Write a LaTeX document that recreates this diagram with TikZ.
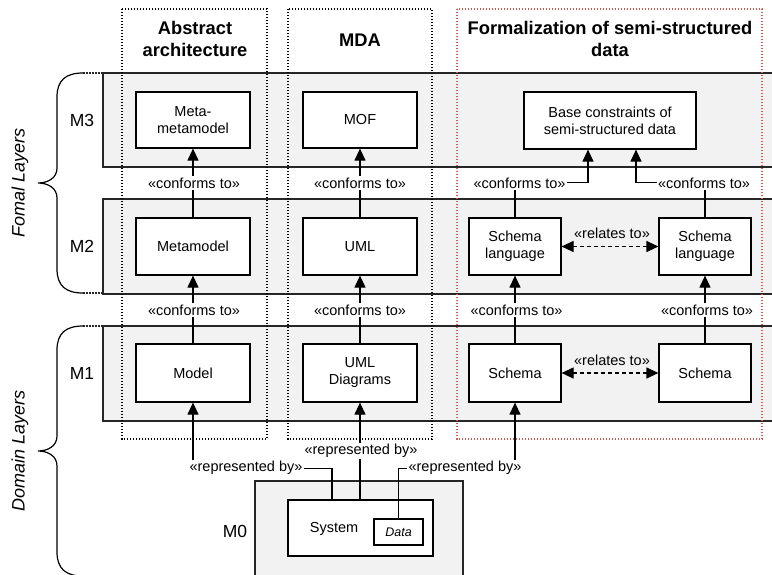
\documentclass[tikz,border=0pt]{standalone}
\usepackage{fontspec}
\setmainfont{Liberation Sans}
\usetikzlibrary{arrows.meta,calc}
\definecolor{bandfill}{HTML}{F2F2F2}
\definecolor{bandline}{HTML}{262626}
\definecolor{redcol}{RGB}{214,90,80}

\tikzset{
  band/.style={draw=bandline, fill=bandfill, line width=1.2pt},
  colbox/.style={draw=black, line width=1.1pt, dash pattern=on 1.1pt off 1.9pt},
  elem/.style={draw=black, fill=white, line width=1.2pt, inner sep=0pt, align=center,
    font=\fontsize{14.5}{17}\selectfont},
  lbl/.style={fill=white, inner sep=1.5pt, font=\fontsize{14.5}{17}\selectfont},
  lbltr/.style={inner sep=1.5pt, font=\fontsize{14.5}{17}\selectfont},
  layertag/.style={font=\fontsize{17.5}{20}\selectfont},
  heading/.style={font=\fontsize{18.3}{22}\selectfont\bfseries, align=center},
  sidetag/.style={font=\fontsize{18}{20}\selectfont\itshape, rotate=90},
  tip/.tip={Triangle[length=12pt,width=11pt]},
  conn/.style={line width=1.2pt, -tip},
  rel/.style={line width=1.2pt, dash pattern=on 4pt off 3pt, tip-tip},
  brace/.style={line width=1.2pt, draw=black},
  stub/.style={line width=1.2pt, draw=bandline, dash pattern=on 1.5pt off 1.5pt},
}

\begin{document}
\begin{tikzpicture}[x=1pt,y=-1pt]
\useasboundingbox (0,0) rectangle (772,574);
\clip (0,0) rectangle (772,574);

% layer bands
\draw[band] (103,73) rectangle (790,167);
\draw[band] (103,199) rectangle (790,294);
\draw[band] (103,326) rectangle (790,421);
\draw[band] (255,481) rectangle (463,600);

% dotted stubs between braces and bands
\draw[stub] (83,73) -- (103,73);
\draw[stub] (83,293) -- (103,293);
\draw[stub] (83,326) -- (103,326);

% braces
\draw[brace] (83,73) .. controls (66,73) and (57,80) .. (57,97) -- (57,168)
  .. controls (57,178) and (48,183) .. (38,183)
  .. controls (48,183) and (57,188) .. (57,198) -- (57,269)
  .. controls (57,286) and (66,293) .. (83,293);
\draw[brace] (83,326) .. controls (66,326) and (57,333) .. (57,350) -- (57,436)
  .. controls (57,446) and (48,451) .. (38,451)
  .. controls (48,451) and (57,456) .. (57,466) -- (57,552)
  .. controls (57,569) and (66,576) .. (83,576);
\node[sidetag] (formal) at (20,183) {Fomal Layers};
\node[sidetag] (domain) at (20,451) {Domain Layers};

% column frames
\draw[colbox] (122,9) rectangle (267,439);
\draw[colbox] (288,9) rectangle (432,439);
\draw[colbox, draw=redcol] (457,9) rectangle (762,439);

% headings
\node[heading] (h1) at (195,39) {Abstract\\architecture};
\node[heading] (h2) at (360,40) {MDA};
\node[heading] (h3) at (610,39) {Formalization of semi-structured\\data};

% layer tags
\node[layertag] (m3) at (82,120) {M3};
\node[layertag] (m2) at (82,246) {M2};
\node[layertag] (m1) at (82,373) {M1};
\node[layertag] (m0) at (235,531) {M0};

% elements
\node[elem, minimum width=114pt, minimum height=56pt] (mmm) at (193,120) {Meta-\\metamodel};
\node[elem, minimum width=114pt, minimum height=56pt] (mof) at (360,120) {MOF};
\node[elem, minimum width=172pt, minimum height=57pt] (base) at (610,120.5) {Base constraints of\\semi-structured data};

\node[elem, minimum width=114pt, minimum height=57pt] (meta) at (193,246.5) {Metamodel};
\node[elem, minimum width=114pt, minimum height=57pt] (uml) at (360,246.5) {UML};
\node[elem, minimum width=92pt, minimum height=57pt] (sl1) at (515,246.5) {Schema\\language};
\node[elem, minimum width=92pt, minimum height=57pt] (sl2) at (705,246.5) {Schema\\language};

\node[elem, minimum width=114pt, minimum height=58pt] (model) at (193,373) {Model};
\node[elem, minimum width=114pt, minimum height=58pt] (umld) at (360,373) {UML\\Diagrams};
\node[elem, minimum width=92pt, minimum height=58pt] (s1) at (515,373) {Schema};
\node[elem, minimum width=92pt, minimum height=58pt] (s2) at (705,373) {Schema};

\node[elem, minimum width=145pt, minimum height=56pt] (sys) at (360.5,528) {};
\node[lbltr] (systxt) at (334,529) {System};
\node[elem, minimum width=49pt, minimum height=26pt, font=\fontsize{12.5}{14}\selectfont\itshape] (data) at (398.5,532) {Data};

% conforms-to connectors
\draw[conn] (meta.north) -- (mmm.south);
\draw[conn] (uml.north) -- (mof.south);
\draw[conn] (sl1.north) -- ++(0,-35) -| ([xshift=-22pt]base.south);
\draw[conn] (sl2.north) -- ++(0,-35) -| ([xshift=26pt]base.south);
\draw[conn] (model.north) -- (meta.south);
\draw[conn] (umld.north) -- (uml.south);
\draw[conn] (s1.north) -- (sl1.south);
\draw[conn] (s2.north) -- (sl2.south);

% relates-to connectors
\draw[rel] (sl1.east) -- (sl2.west);
\draw[rel] (s1.east) -- (s2.west);

% represented-by connectors
\draw[conn] ([xshift=-28.5pt]sys.north) |- ($(model.south)+(0,66)$) -- (model.south);
\draw[conn] (sys.north -| umld.south) -- (umld.south);
\draw[conn] (data.north) |- ($(s1.south)+(0,66)$) -- (s1.south);

% connector labels
\node[lbl] (c1) at (194,183) {«conforms to»};
\node[lbl] (c2) at (360,183) {«conforms to»};
\node[lbl] (c3) at (519.5,183) {«conforms to»};
\node[lbl] (c4) at (704,183) {«conforms to»};
\node[lbl] (c5) at (194,310) {«conforms to»};
\node[lbl] (c6) at (360,310) {«conforms to»};
\node[lbl] (c7) at (516.5,310) {«conforms to»};
\node[lbl] (c8) at (707,310) {«conforms to»};
\node[lbltr] (r1) at (612,233) {«relates to»};
\node[lbltr] (r2) at (612,360) {«relates to»};
\node[lbl] (p1) at (246,468) {«represented by»};
\node[lbl] (p2) at (361,451) {«represented by»};
\node[lbl] (p3) at (465,468) {«represented by»};
\end{tikzpicture}
\end{document}
